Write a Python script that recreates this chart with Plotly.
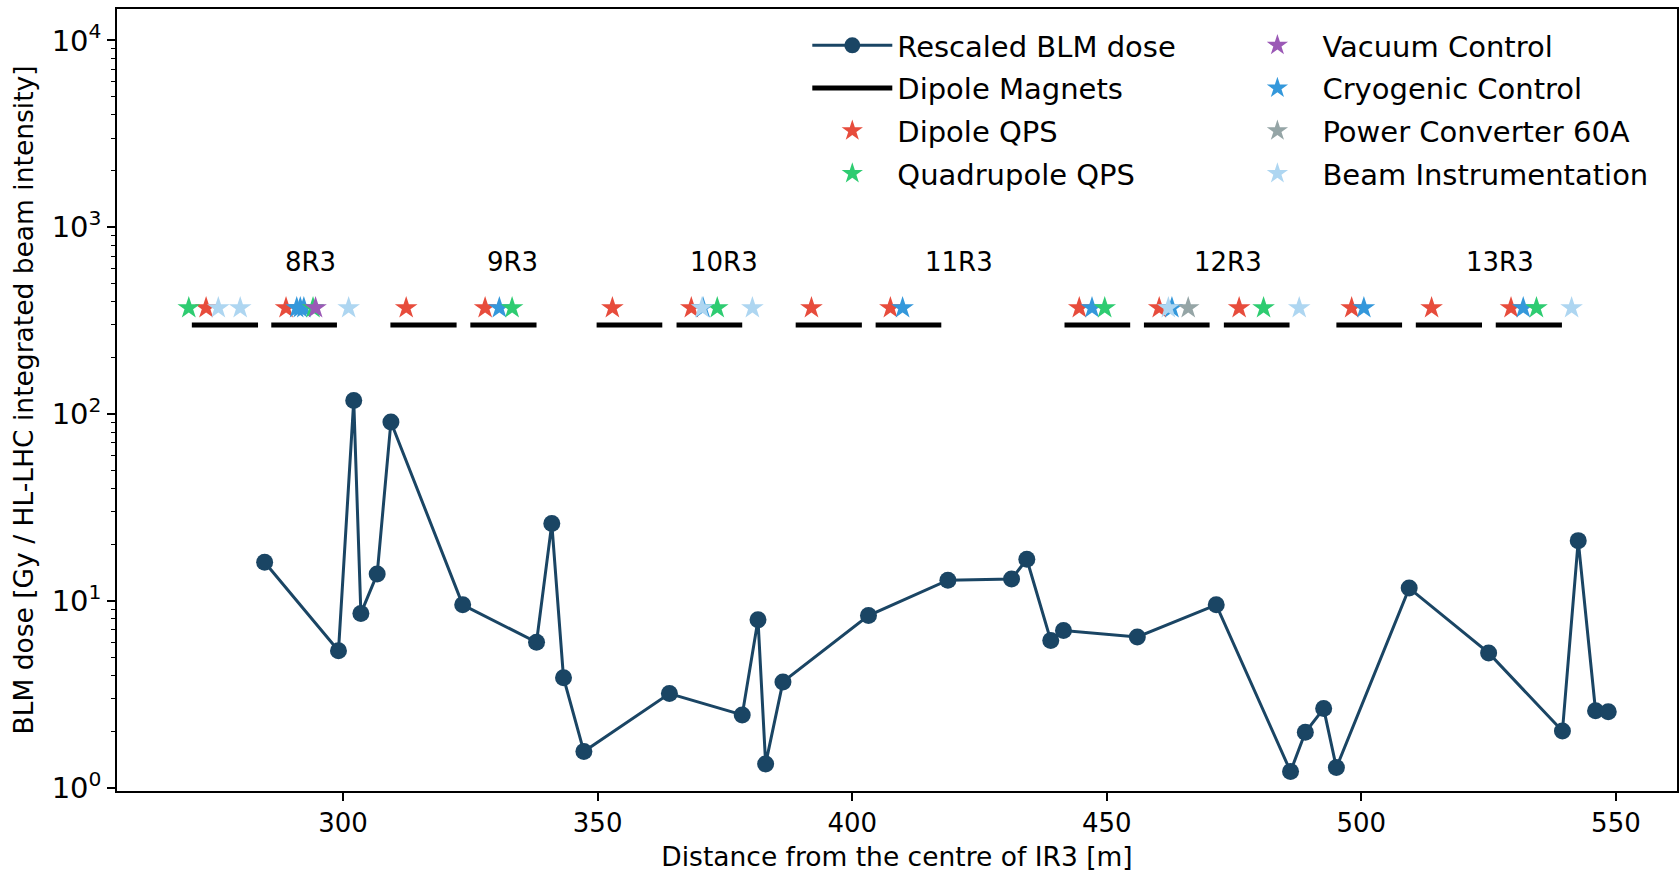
import math
import plotly.graph_objects as go

# ---- data ----
blm_x = [284.6, 299.1, 302.1, 303.5, 306.7, 309.4, 323.5, 338.0, 341.0, 343.3,
         347.3, 364.1, 378.4, 381.5, 383.0, 386.4, 403.2, 418.8, 431.3, 434.3,
         439.0, 441.5, 456.0, 471.5, 486.1, 489.0, 492.6, 495.1, 509.4, 525.0,
         539.5, 542.6, 546.0, 548.5]
blm_dose = [16.1, 5.40, 118.0, 8.56, 13.9, 90.7, 9.52, 6.0, 25.9, 3.88,
            1.56, 3.19, 2.45, 7.91, 1.34, 3.68, 8.34, 12.9, 13.1, 16.7,
            6.13, 6.94, 6.41, 9.52, 1.22, 1.98, 2.65, 1.28, 11.7, 5.26,
            2.01, 21.0, 2.58, 2.55]

dipole_start = [270.3, 285.9, 309.3, 325.0, 349.8, 365.5, 388.9, 404.6,
                441.7, 457.3, 473.0, 495.1, 510.7, 526.4]
dipole_end = [283.3, 298.8, 322.3, 338.0, 362.7, 378.4, 401.9, 417.5,
              454.6, 470.2, 485.9, 508.0, 523.7, 539.4]
dipole_level = 300

star_level = 370
dipole_qps_x = [273.1, 288.8, 312.4, 327.9, 352.9, 368.4, 392.0, 407.5,
                444.6, 460.3, 476.0, 498.1, 513.8, 529.4]
quad_qps_x = [269.7, 294.1, 333.2, 373.5, 449.6, 480.8, 534.4]
vacuum_x = [294.6]
cryo_x = [290.9, 291.6, 292.3, 330.7, 370.7, 409.9, 447.1, 462.8, 500.5, 531.8]
pc60_x = [466.0]
beam_instr_x = [275.5, 279.8, 301.1, 370.5, 380.4, 462.1, 487.8, 541.3]

cell_labels = ["8R3", "9R3", "10R3", "11R3", "12R3", "13R3"]
cell_label_x = [293.6, 333.2, 374.8, 420.9, 473.9, 527.3]
cell_label_level = 650

x_ticks = [300, 350, 400, 450, 500, 550]
y_ticks = [1, 10, 100, 1000, 10000]
y_ticktext = ["10<sup>0</sup>", "10<sup>1</sup>", "10<sup>2</sup>", "10<sup>3</sup>", "10<sup>4</sup>"]
y_minor = [m * d for d in [1, 10, 100, 1000, 10000] for m in range(2, 10)]

# ---- style ----
FONT = "DejaVu Sans"
c_line = "#1a4564"
c_red = "#e74c3c"
c_green = "#2ecc71"
c_purple = "#9b59b6"
c_blue = "#3498db"
c_gray = "#95a5a6"
c_lblue = "#aed6f1"

fig = go.Figure()

dx, dy = [], []
for s, e in zip(dipole_start, dipole_end):
    dx += [s, e, None]
    dy += [dipole_level, dipole_level, None]
fig.add_trace(go.Scatter(x=dx, y=dy, mode="lines", name="Dipole Magnets",
                         line=dict(color="black", width=5), legend="legend",
                         legendrank=2, legendgroup="g2"))

def stars(xs, color, name, legend, rank):
    fig.add_trace(go.Scatter(x=xs, y=[star_level] * len(xs), mode="markers", name=name,
                             marker=dict(symbol="star", size=17, color=color, line=dict(width=0)),
                             legend=legend, legendrank=rank, legendgroup="g%d" % rank))

stars(dipole_qps_x, c_red, "Dipole QPS", "legend", 3)
stars(cryo_x, c_blue, "Cryogenic Control", "legend2", 6)
stars(quad_qps_x, c_green, "Quadrupole QPS", "legend", 4)
stars(vacuum_x, c_purple, "Vacuum Control", "legend2", 5)
stars(pc60_x, c_gray, "Power Converter 60A", "legend2", 7)
stars(beam_instr_x, c_lblue, "Beam Instrumentation", "legend2", 8)

fig.add_trace(go.Scatter(x=blm_x, y=blm_dose, mode="lines+markers", name="Rescaled BLM dose",
                         line=dict(color=c_line, width=3),
                         marker=dict(color=c_line, size=17, line=dict(width=0)),
                         legend="legend", legendrank=1, legendgroup="g1"))

for t, xv in zip(cell_labels, cell_label_x):
    fig.add_annotation(x=xv, y=math.log10(cell_label_level), yref="y", xref="x", text=t,
                       showarrow=False, font=dict(family=FONT, size=26, color="black"),
                       xanchor="center", yanchor="middle")

leg_common = dict(font=dict(family=FONT, size=29, color="black"), bgcolor="rgba(0,0,0,0)",
                  borderwidth=0, itemwidth=80, traceorder="grouped", tracegroupgap=2,
                  xanchor="left", yanchor="top", itemclick=False)
fig.update_layout(
    width=1679, height=872,
    margin=dict(l=117, r=2, t=9, b=81, autoexpand=False),
    paper_bgcolor="white", plot_bgcolor="white",
    font=dict(family=FONT, size=26, color="black"),
    showlegend=True,
    legend=dict(x=0.4425, y=0.986, **leg_common),
    legend2=dict(x=0.715, y=0.986, **leg_common),
    xaxis=dict(range=[255.6, 562.0], tickvals=x_ticks, ticks="outside", ticklen=8,
               tickwidth=1.5, tickcolor="black", showgrid=False, zeroline=False,
               showline=True, linecolor="black", linewidth=1.5, mirror=True,
               automargin=False, tickfont=dict(family=FONT, size=26),
               title=dict(text="Distance from the centre of IR3 [m]", standoff=12,
                          font=dict(family=FONT, size=26.5))),
    yaxis=dict(type="log", range=[-0.018, 4.168], tickvals=y_ticks, ticktext=y_ticktext,
               ticks="outside", ticklen=8, tickwidth=1.5, tickcolor="black",
               minor=dict(tickvals=y_minor, ticks="outside", ticklen=4.5, tickwidth=1,
                          tickcolor="black", showgrid=False),
               showgrid=False, zeroline=False, showline=True, linecolor="black",
               linewidth=1.5, mirror=True, automargin=False,
               tickfont=dict(family=FONT, size=29),
               title=dict(text="BLM dose [Gy / HL-LHC integrated beam intensity]", standoff=10,
                          font=dict(family=FONT, size=26.5))),
)

# remove the default 8px page margin so the 1679x872 figure fills the window exactly
fig.write_html("out.html", config={"displayModeBar": False},
               post_script="document.body.style.margin='0';document.body.style.overflow='hidden';")
